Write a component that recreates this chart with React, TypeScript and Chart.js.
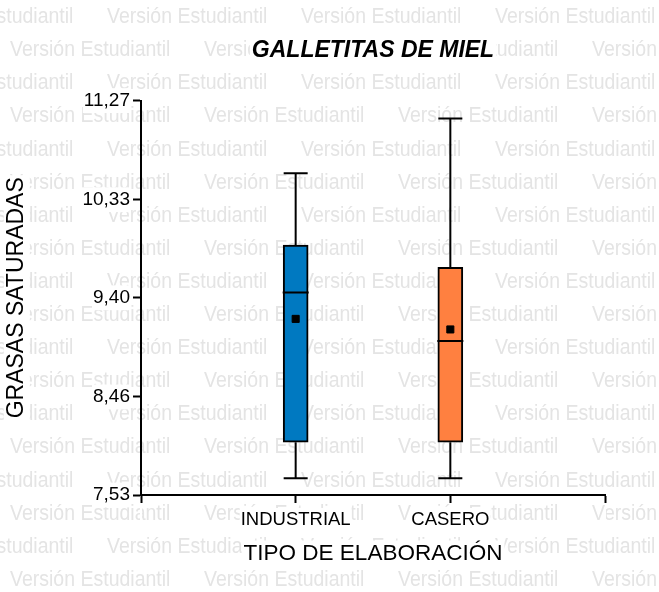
import React, { useEffect, useRef } from 'react';
import { Chart, registerables } from 'chart.js';

Chart.register(...registerables);

const chartTitle = 'GALLETITAS DE MIEL';
const xTitle = 'TIPO DE ELABORACIÓN';
const yTitle = 'GRASAS SATURADAS';
const watermark = 'Versión Estudiantil';

const categories = ['INDUSTRIAL', 'CASERO'];
const boxColors = ['#0079C1', '#FF8040'];
const whiskerLow = [7.69, 7.69];
const q1 = [8.03, 8.03];
const medians = [9.45, 8.99];
const q3 = [9.9, 9.69];
const whiskerHigh = [10.58, 11.1];
const means = [9.2, 9.1];
const yTicks = [7.53, 8.46, 9.4, 10.33, 11.27];

const FONT = "'Liberation Sans', Arial, sans-serif";
const TITLE_SIZE = 23;
const TITLE_PAD = { top: 37, bottom: 36 };
const XTITLE_SIZE = 22.5;
const XTITLE_PAD = { top: 0, bottom: 25 };
const YTITLE_SIZE = 23;
const YTITLE_PAD = { top: 3, bottom: 0 };

const xPos = categories.map((_, i) => i + 1);

const watermarkPlugin = {
  id: 'watermark',
  beforeDraw(chart: any) {
    const { ctx, width, height } = chart;
    ctx.save();
    ctx.fillStyle = '#ffffff';
    ctx.fillRect(0, 0, width, height);
    ctx.font = `19.5px ${FONT}`;
    ctx.fillStyle = '#e4e4e4';
    ctx.textBaseline = 'middle';
    ctx.textAlign = 'left';
    const period = 194;
    const rowH = 33.1;
    for (let r = 0; r < 18; r++) {
      const y = 17 + r * rowH;
      for (let x = (r % 2 === 0 ? 107 : 10) - period; x < width; x += period) {
        ctx.save();
        ctx.translate(x, y);
        ctx.scale(1, 1.15);
        ctx.fillText(watermark, 0, 0);
        ctx.restore();
      }
    }
    // white backgrounds behind the titles
    ctx.fillStyle = '#ffffff';
    const ca = chart.chartArea;
    const tb = chart.titleBlock;
    ctx.font = `italic bold ${TITLE_SIZE}px ${FONT}`;
    const tw = ctx.measureText(chartTitle).width;
    const tcx = (ca.left + ca.right) / 2;
    const tcy = tb.top + TITLE_PAD.top + (TITLE_SIZE * 1.2) / 2;
    ctx.fillRect(tcx - tw / 2 - 2, tcy - 13, tw + 4, 26);

    const xs = chart.scales.x;
    ctx.font = `${XTITLE_SIZE}px ${FONT}`;
    const xw = ctx.measureText(xTitle).width;
    const xcx = (xs.left + xs.right) / 2;
    const xcy = xs.bottom - (XTITLE_SIZE * 1.2) / 2 - XTITLE_PAD.bottom;
    ctx.fillRect(xcx - xw / 2 - 2, xcy - 13, xw + 4, 26);

    const ys = chart.scales.y;
    ctx.font = `${YTITLE_SIZE}px ${FONT}`;
    const yw = ctx.measureText(yTitle).width;
    const ycx = ys.left + (YTITLE_SIZE * 1.2) / 2 + YTITLE_PAD.top;
    const ycy = (ys.top + ys.bottom) / 2;
    ctx.fillRect(ycx - 13, ycy - yw / 2 - 2, 26, yw + 4);
    ctx.restore();
  },
};

export default function App() {
  const canvasRef = useRef<HTMLCanvasElement | null>(null);

  useEffect(() => {
    const canvas = canvasRef.current;
    if (!canvas) return;

    const whiskerSets: any[] = [];
    categories.forEach((_, i) => {
      whiskerSets.push({
        type: 'line',
        data: [
          { x: xPos[i], y: q3[i] },
          { x: xPos[i], y: whiskerHigh[i] },
        ],
        borderColor: '#000',
        borderWidth: 2,
        pointRadius: 0,
        order: 5,
      });
      whiskerSets.push({
        type: 'line',
        data: [
          { x: xPos[i], y: q1[i] },
          { x: xPos[i], y: whiskerLow[i] },
        ],
        borderColor: '#000',
        borderWidth: 2,
        pointRadius: 0,
        order: 5,
      });
    });

    const chart = new Chart(canvas, {
      type: 'bar',
      data: {
        datasets: [
          ...whiskerSets,
          {
            type: 'line',
            data: categories.flatMap((_, i) => [
              { x: xPos[i], y: whiskerLow[i] },
              { x: xPos[i], y: whiskerHigh[i] },
            ]),
            showLine: false,
            pointStyle: 'line',
            pointRadius: 12,
            pointBorderWidth: 2,
            pointBorderColor: '#000',
            order: 4,
          },
          {
            type: 'bar',
            data: categories.map((_, i) => ({ x: xPos[i], y: [q1[i], q3[i]] })),
            backgroundColor: boxColors,
            borderColor: '#000',
            borderWidth: 2,
            borderSkipped: false,
            barThickness: 25,
            order: 3,
          },
          {
            type: 'line',
            data: categories.map((_, i) => ({ x: xPos[i], y: medians[i] })),
            showLine: false,
            pointStyle: 'line',
            pointRadius: 13,
            pointBorderWidth: 2,
            pointBorderColor: '#000',
            order: 2,
          },
          {
            type: 'line',
            data: categories.map((_, i) => ({ x: xPos[i], y: means[i] })),
            showLine: false,
            pointStyle: 'rect',
            pointRadius: 5,
            pointBackgroundColor: '#000',
            pointBorderColor: '#000',
            pointBorderWidth: 1,
            order: 1,
          },
        ] as any,
      },
      options: {
        responsive: false,
        animation: false,
        devicePixelRatio: 1,
        events: [],
        layout: { padding: { left: 0, right: 54, top: 0, bottom: 0 } },
        plugins: {
          legend: { display: false },
          tooltip: { enabled: false },
          title: {
            display: true,
            text: chartTitle,
            fullSize: false,
            color: '#000',
            font: { family: FONT, size: TITLE_SIZE, style: 'italic', weight: 'bold' },
            padding: TITLE_PAD,
          },
        },
        scales: {
          x: {
            type: 'linear',
            min: 0,
            max: categories.length + 1,
            offset: false,
            afterBuildTicks: (scale: any) => {
              scale.ticks = [0, ...xPos, categories.length + 1].map((v) => ({ value: v }));
            },
            afterFit: (scale: any) => {
              scale.height = 97;
            },
            ticks: {
              autoSkip: false,
              maxRotation: 0,
              padding: 6,
              color: '#000',
              font: { family: FONT, size: 18.5 },
              showLabelBackdrop: true,
              backdropColor: '#fff',
              backdropPadding: 1,
              callback: (v: any) => {
                const i = xPos.indexOf(Number(v));
                return i >= 0 ? categories[i] : '';
              },
            },
            grid: {
              offset: false,
              drawOnChartArea: false,
              drawTicks: true,
              tickLength: 8,
              tickWidth: 2,
              tickColor: '#000',
            },
            border: { display: true, color: '#000', width: 2 },
            title: {
              display: true,
              text: xTitle,
              color: '#000',
              font: { family: FONT, size: XTITLE_SIZE },
              padding: XTITLE_PAD,
            },
          },
          y: {
            type: 'linear',
            min: yTicks[0],
            max: yTicks[yTicks.length - 1],
            beginAtZero: false,
            afterBuildTicks: (scale: any) => {
              scale.ticks = yTicks.map((v) => ({ value: v }));
            },
            afterFit: (scale: any) => {
              scale.width = 141;
            },
            ticks: {
              padding: 3,
              color: '#000',
              font: { family: FONT, size: 19 },
              showLabelBackdrop: true,
              backdropColor: '#fff',
              backdropPadding: 1,
              callback: (v: any) => Number(v).toFixed(2).replace('.', ','),
            },
            grid: {
              drawOnChartArea: false,
              drawTicks: true,
              tickLength: 8,
              tickWidth: 2,
              tickColor: '#000',
            },
            border: { display: true, color: '#000', width: 2 },
            title: {
              display: true,
              text: yTitle,
              color: '#000',
              font: { family: FONT, size: YTITLE_SIZE },
              padding: YTITLE_PAD,
            },
          },
        },
      } as any,
      plugins: [watermarkPlugin],
    });

    return () => chart.destroy();
  }, []);

  return (
    <div style={{ position: 'fixed', left: 0, top: 0, width: 659, height: 592, background: '#fff' }}>
      <canvas ref={canvasRef} width={659} height={592} style={{ display: 'block', width: 659, height: 592 }} />
    </div>
  );
}
